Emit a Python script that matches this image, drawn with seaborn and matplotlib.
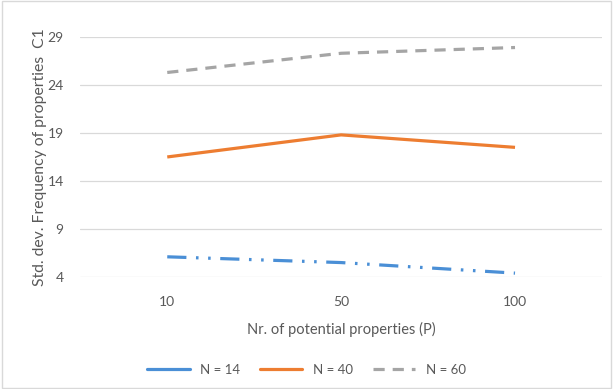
import numpy as np
import pandas as pd
import matplotlib
matplotlib.use('Agg')
import matplotlib.pyplot as plt
import seaborn as sns

# Data
p_values = ['10', '50', '100']
n14 = [6.1, 5.5, 4.4]
n40 = [16.5, 18.8, 17.5]
n60 = [25.3, 27.3, 27.9]
series_names = ['N = 14', 'N = 40', 'N = 60']
y_ticks = [4, 9, 14, 19, 24, 29]

df = pd.DataFrame({
    'P': p_values * 3,
    'pos': list(range(len(p_values))) * 3,
    'value': n14 + n40 + n60,
    'series': [s for s in series_names for _ in p_values],
})

sns.set_style('white')
plt.rcParams['font.family'] = ['Lato', 'DejaVu Sans']

fig = plt.figure(figsize=(6.13, 3.89), dpi=100)
ax = fig.add_axes([0.131, 0.288, 0.851, 0.617])

palette = {'N = 14': '#4a8fd6', 'N = 40': '#ed7d31', 'N = 60': '#a5a5a5'}
sns.lineplot(data=df, x='pos', y='value', hue='series', palette=palette,
             linewidth=2.3, ax=ax, legend=False)

styles = [(0, (6, 3, 0.8, 3, 0.8, 3)), '-', (0, (3.5, 2.5))]
for line, ls in zip(ax.lines, styles):
    line.set_linestyle(ls)
    line.set_solid_capstyle('butt')
    line.set_dash_capstyle('butt')

ax.set_xlim(-0.5, 2.5)
ax.set_ylim(4, 29)
ax.set_xticks(range(len(p_values)))
ax.set_xticklabels(p_values)
ax.set_yticks(y_ticks)
ax.tick_params(axis='both', length=0, labelsize=10, colors='#595959', pad=12)
ax.tick_params(axis='x', pad=14)
ax.grid(axis='y', color='#d9d9d9', linewidth=0.9)
for sp in ax.spines.values():
    sp.set_visible(False)

ax.set_xlabel('Nr. of potential properties (P)', fontsize=10.5, color='#595959', labelpad=10)
ax.set_ylabel('Std. dev. Frequency of properties  C1', fontsize=11.3, color='#595959', labelpad=0)

handles = [plt.Line2D([], [], color=palette[s], lw=2.3, linestyle=ls)
           for s, ls in zip(series_names, ['-', '-', (0, (3.5, 2.5))])]
fig.legend(handles, series_names, loc='center', bbox_to_anchor=(0.5, 0.05), ncol=3,
           frameon=False, fontsize=9.5, handlelength=3.2, columnspacing=1.5,
           labelcolor='#595959')

border = plt.Rectangle((0.003, 0.003), 0.994, 0.994, transform=fig.transFigure,
                       fill=False, edgecolor='#d9d9d9', linewidth=1)
fig.patches.append(border)

fig.savefig('out.png', dpi=100)
